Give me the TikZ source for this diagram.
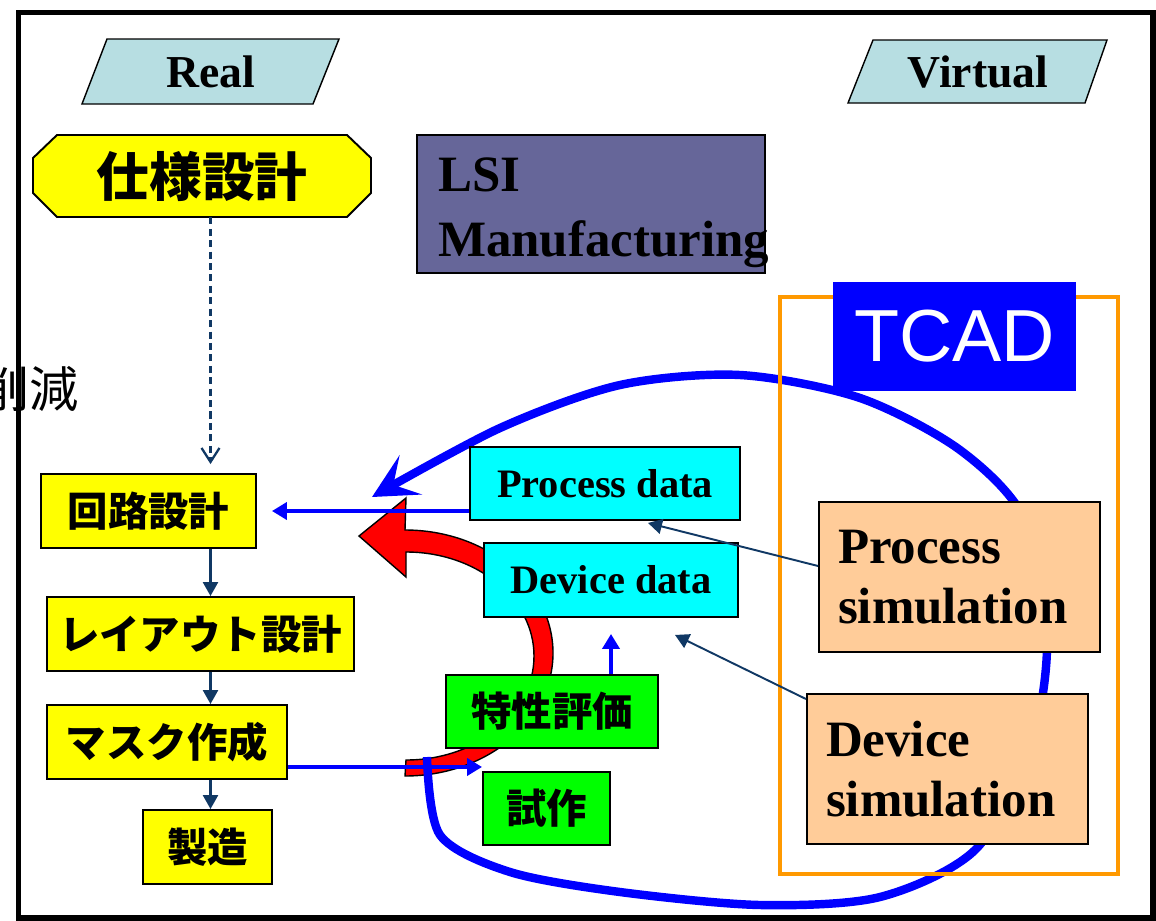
\documentclass[tikz,border=0pt]{standalone}
\usepackage{fontspec}
\setmainfont{Liberation Serif}
\setsansfont{Liberation Sans}
\newfontfamily\jpfont{Noto Sans CJK JP}
\usetikzlibrary{arrows.meta,calc}
\definecolor{paleblue}{RGB}{183,222,226}
\definecolor{lsiblue}{RGB}{102,102,153}
\definecolor{simorange}{RGB}{255,204,153}
\definecolor{tcadorange}{RGB}{255,153,0}
\definecolor{darkarrow}{RGB}{16,56,100}
\definecolor{boxyellow}{RGB}{255,255,0}
\definecolor{boxgreen}{RGB}{0,255,0}
\definecolor{boxcyan}{RGB}{0,255,255}
\definecolor{loopblue}{RGB}{0,0,255}
\definecolor{arrowred}{RGB}{255,0,0}
\begin{document}
\begin{tikzpicture}[x=0.02cm,y=-0.02cm,
	jp/.style={font=\jpfont\bfseries\fontsize{23}{27}\selectfont},
	ybox/.style={jp,draw,fill=boxyellow,line width=1.1pt,minimum height=1.48cm,inner sep=0pt},
	gbox/.style={jp,draw,fill=boxgreen,line width=1.1pt,minimum height=1.46cm,inner sep=0pt},
	databox/.style={draw,fill=boxcyan,line width=1.1pt,minimum height=1.46cm,inner sep=0pt,font=\bfseries\fontsize{23}{27}\selectfont},
	simbox/.style={draw,fill=simorange,line width=1.1pt,minimum width=5.62cm,minimum height=3cm,inner xsep=0.38cm,text width=4.86cm,align=left,font=\bfseries\fontsize{29}{34}\selectfont},
	flow/.style={darkarrow,line width=1.4pt,-{Triangle[length=0.28cm,width=0.3cm]}},
	feed/.style={loopblue,line width=2.6pt,-{Triangle[length=0.3cm,width=0.34cm]}}]
	\useasboundingbox (0,0) rectangle (1156,920);
	
	\node[anchor=east,inner sep=0pt,font=\jpfont\fontsize{28}{32}\selectfont] (cut) at (79,389) {削減};
	\draw[line width=3.4pt] (18.5,12.5) rectangle (1153,917.5);
	
	\filldraw[fill=paleblue,line width=0.8pt] (107,39) -- (339,39) -- (313,104) -- (82,104) -- cycle;
	\node[font=\bfseries\fontsize{26}{30}\selectfont] (real) at (211,72) {Real};
	\filldraw[fill=paleblue,line width=0.8pt] (873,40) -- (1107,40) -- (1085,103) -- (848,103) -- cycle;
	\node[font=\bfseries\fontsize{26}{30}\selectfont] (virtual) at (978,72) {Virtual};
	
	\filldraw[fill=boxyellow,line width=1.1pt] (57,135) -- (347,135) -- (371,158) -- (371,193) -- (347,217) -- (57,217) -- (33,193) -- (33,158) -- cycle;
	\node[font=\jpfont\bfseries\fontsize{30}{36}\selectfont,minimum width=6.76cm,minimum height=1.64cm,inner sep=0pt] (spec) at (202,176) {仕様設計};
	
	\node[draw,fill=lsiblue,line width=1.1pt,minimum width=6.96cm,minimum height=2.76cm] (lsi) at (591,204) {};
	\node[text width=6.12cm,align=left,inner sep=0pt,font=\bfseries\fontsize{29}{37}\selectfont] (lsitext) at ($(lsi.center)+(0,9)$) {LSI\\Manufacturing};
	
	\filldraw[fill=arrowred,line width=0.8pt] (405,776) arc[start angle=90,end angle=-90,x radius=148,y radius=123] -- (406,498) -- (359,536) -- (406,577) -- (406,552) arc[start angle=-90,end angle=90,x radius=128,y radius=104] -- cycle;
	\draw[loopblue,line width=4.8pt,-{Stealth[length=0.89cm,width=0.9cm,inset=0.4cm]}] plot[smooth] coordinates {(427,757) (440,835) (510,872) (620,892) (760,905) (880,897) (975,850) (1030,750) (1047,640) (1025,520) (960,450) (860,398) (740,375) (620,385) (500,428) (372,497)};
	
	\draw[tcadorange,line width=2.3pt] (780,297) rectangle (1118,874);
	\node[fill=loopblue,text=white,font=\sffamily\fontsize{42}{50}\selectfont,minimum width=4.86cm,minimum height=2.18cm,inner sep=0pt] (tcad) at (954.5,336.5) {TCAD};
	
	\node[ybox,minimum width=4.3cm] (circuit) at (148.5,511) {回路設計};
	\node[ybox,minimum width=6.14cm] (layout) at (200.5,634) {レイアウト設計};
	\node[ybox,minimum width=4.8cm] (mask) at (167,742) {マスク作成};
	\node[ybox,minimum width=2.58cm] (fab) at (207.5,847) {製造};
	\node[gbox,minimum width=4.24cm] (eval) at (552,711.5) {特性評価};
	\node[gbox,minimum width=2.54cm] (proto) at (546.5,808.5) {試作};
	\node[databox,minimum width=5.4cm] (pdata) at (605,483.5) {Process data};
	\node[databox,minimum width=5.08cm,minimum height=1.48cm] (ddata) at (611,580) {Device data};
	\node[simbox] (psim) at (959.5,577) {Process\\simulation};
	\node[simbox] (dsim) at (947.5,769) {Device\\simulation};
	
	\coordinate (d0) at (210.5,0);
	\draw[darkarrow,line width=1.3pt,dash pattern=on 4pt off 2.5pt,shorten >=0.18cm,-{Straight Barb[length=0.28cm,width=0.36cm]}] (spec.south -| d0) -- (circuit.north -| d0);
	\draw[flow] (circuit.south -| d0) -- (layout.north -| d0);
	\draw[flow] (layout.south -| d0) -- (mask.north -| d0);
	\draw[flow] (mask.south -| d0) -- (fab.north -| d0);
	
	\draw[feed,shorten >=0.3cm] (pdata.west |- circuit.east) -- (circuit.east);
	\draw[feed] ($(mask.south east)+(0,-13)$) coordinate (m1) -- (m1 -| proto.west);
	\draw[feed] (eval.north -| ddata.south) -- ($(ddata.south)+(0,16)$);
	
	\draw[flow,line width=1.1pt] ($(psim.west)+(0,-11)$) -- ($(pdata.south)+(43,2)$);
	\draw[flow,line width=1.1pt] ($(dsim.north west)+(0,6)$) -- ($(ddata.south)+(64,17)$);
\end{tikzpicture}
\end{document}
